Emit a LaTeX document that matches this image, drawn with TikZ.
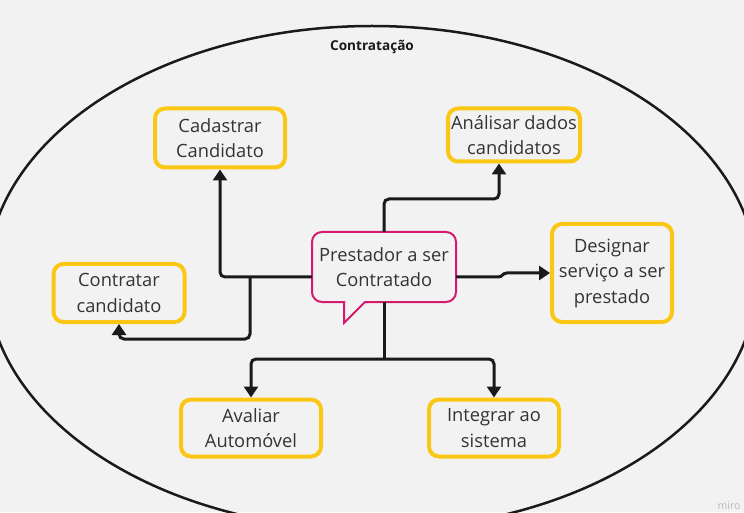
\documentclass[tikz,border=0pt]{standalone}
\usepackage{fontspec}
\setmainfont{Open Sans}
\usetikzlibrary{arrows.meta}
\definecolor{bg}{HTML}{F2F2F2}
\definecolor{ybox}{RGB}{250,200,20}
\definecolor{pk}{RGB}{214,26,110}
\definecolor{ink}{HTML}{1A1A1A}
\definecolor{txt}{HTML}{333333}
\begin{document}
\begin{tikzpicture}[x=1pt,y=1pt,
  box/.style={draw=ybox, line width=4pt, rounded corners=10pt, align=center, text=txt,
    font=\fontsize{18.3}{25.5}\selectfont, inner sep=0pt},
  tip/.style={-{Triangle[length=11pt,width=14pt]}},
  conn/.style={draw=ink, line width=3pt, rounded corners=5pt},
  arr/.style={conn, tip}]
\useasboundingbox (0,0) rectangle (744,512);
\fill[bg] (0,0) rectangle (744,512);
\begin{scope}
\clip (0,0) rectangle (744,512);
\draw[ink, line width=2.5pt] (372,234) ellipse [x radius=385, y radius=252];
\end{scope}
\node[font=\bfseries\fontsize{13.6}{15}\selectfont, text=ink] (title) at (372,465) {Contratação};
\node[text=black!28, font=\fontsize{10.5}{12}\selectfont] (miro) at (729,6) {miro};

% nodes
\node[box, minimum width=130, minimum height=59] (cad) at (220,374) {Cadastrar\\Candidato};
\node[box, minimum width=132, minimum height=53] (ana) at (514,377) {Análisar dados\\candidatos};
\node[box, minimum width=120, minimum height=98] (des) at (612,239) {Designar\\serviço a ser\\prestado};
\node[box, minimum width=131, minimum height=58] (con) at (119,219) {Contratar\\candidato};
\node[box, minimum width=140, minimum height=57] (ava) at (251,84) {Avaliar\\Automóvel};
\node[box, minimum width=130, minimum height=57] (int) at (494,84) {Integrar ao\\sistema};
\node[align=center, text=txt, font=\fontsize{18.3}{25.5}\selectfont, inner sep=0pt,
  minimum width=144, minimum height=70] (pre) at (384,245) {Prestador a ser\\Contratado};
% callout outline
\draw[pk, line width=2pt] (344,210) -- (322,210) arc[start angle=270,end angle=180,radius=10]
  -- (312,270) arc[start angle=180,end angle=90,radius=10]
  -- (446,280) arc[start angle=90,end angle=0,radius=10]
  -- (456,220) arc[start angle=0,end angle=-90,radius=10]
  -- (365,210) -- (344,189) -- cycle;

% connectors
\coordinate (pw) at ([yshift=-10pt]pre.west);
\coordinate (pe) at ([yshift=-10pt]pre.east);
\coordinate (j1) at (250,235);
\coordinate (j1b) at (250,173);
\coordinate (k1) at (499,313);
\coordinate (s1) at (384,153);
\coordinate (e1) at (498,235);
\coordinate (e2) at (507,239);

\draw[arr] (pw) -| (cad.south);
\draw[arr] (j1) -- (j1b) -| (con.south);
\draw[arr] (pre.north) |- (k1) -- ([xshift=-15pt]ana.south);
\draw[draw=ink, line width=3pt, tip] (pe) -- (e1)
  .. controls (503,235) and (502,239) .. (e2) -- (des.west);
\draw[conn] (pre.south) -- (s1);
\draw[arr] (s1) -| (ava.north);
\draw[arr] (s1) -| (int.north);
\end{tikzpicture}
\end{document}
